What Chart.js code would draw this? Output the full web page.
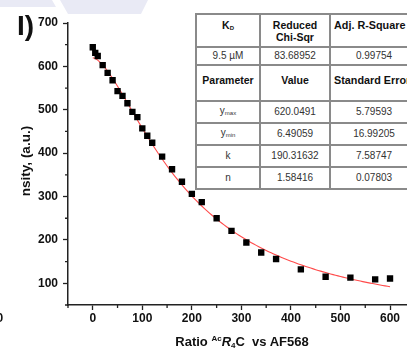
<!DOCTYPE html>
<html>
<head>
<meta charset="utf-8">
<script src="https://cdn.jsdelivr.net/npm/chart.js@4.4.0/dist/chart.umd.min.js"></script>
<style>
  html, body { margin: 0; padding: 0; background: #fff; overflow: hidden; width: 407px; height: 350px; }
  body { position: relative; font-family: "Liberation Sans", Arial, sans-serif; }
  #wrap { position: absolute; left: 0; top: 0; width: 420px; height: 350px; }
  #band { position: absolute; left: 0; top: 0; width: 407px; height: 20px; }
  .txt { position: absolute; white-space: nowrap; color: #111; font-weight: bold; }
  #panel { left: 17px; top: 10px; font-size: 28px; line-height: 32px; }
  #ytitle { left: 25px; top: 161px; font-size: 13.5px; transform: translate(-50%, -50%) rotate(-90deg); }
  #xtitle { left: 242px; top: 342px; font-size: 13px; transform: translate(-50%, -50%); }
  #xtitle sup { font-size: 8px; vertical-align: 5px; }
  #xtitle sub { font-size: 8px; vertical-align: -2px; }
  #prev0 { left: -3.5px; top: 311px; font-size: 12px; }
  #tblbox { position: absolute; left: 195px; top: 13px; width: 240px; }
  #tbl { border-collapse: collapse; background: #fff; table-layout: fixed; width: 222px; }
  #tbl td { border: 2px solid #8a8a8a; text-align: center; padding: 0; font-size: 10px; color: #333; line-height: 11.7px; vertical-align: middle; overflow: visible; white-space: nowrap; }
  #tbl td.h { font-weight: bold; color: #111; font-size: 10.5px; vertical-align: top; }
  #tbl td.h.last { text-align: left; padding-left: 3px; font-size: 10.8px; }
  #tbl tr.r1 td { height: 33px; padding-top: 5px; box-sizing: border-box; }
  #tbl tr.r2 td { height: 16px; }
  #tbl tr.r3 td { height: 36px; padding-top: 9px; box-sizing: border-box; }
  #tbl tr.rp td { height: 20px; }
  #tbl sub { font-size: 6px; vertical-align: -1px; }
</style>
</head>
<body>
<canvas id="band" width="407" height="20"></canvas>
<div id="wrap"><canvas id="c"></canvas></div>
<div class="txt" id="panel">I)</div>
<div class="txt" id="ytitle">nsity, (a.u.)</div>
<div class="txt" id="xtitle">Ratio <sup>Ac</sup><i>R</i><sub>4</sub>C&nbsp; vs AF568</div>
<div class="txt" id="prev0">0</div>
<div id="tblbox">
<table id="tbl">
  <colgroup><col style="width:64px"><col style="width:70px"><col style="width:88px"></colgroup>
  <tbody id="tbody"></tbody>
</table>
</div>
<script>
// Measured titration points
const ratioValues = [0, 5, 10, 20, 30, 40, 50, 60, 70, 80, 90, 100, 110, 120, 140, 160, 180, 200, 220, 250, 280, 310, 340, 370, 420, 470, 520, 570, 600];
const intensityValues = [644, 631, 624, 603, 585, 568, 543, 532, 515, 495, 483, 457, 440, 424, 392, 363, 334, 306, 287, 250, 221, 194, 171, 156, 132, 115, 113, 109, 111];

// Axis tick labels (major) and minor tick positions
const xTickValues = [0, 100, 200, 300, 400, 500, 600];
const yTickValues = [100, 200, 300, 400, 500, 600, 700];
const xMinorValues = [-50, 50, 150, 250, 350, 450, 550, 650];
const yMinorValues = [50, 150, 250, 350, 450, 550, 650];

// Hill fit results
const fitStatLabels = ['K<sub style="font-size:6px">D</sub>', 'Reduced<br>Chi-Sqr', 'Adj. R-Square'];
const fitStatValues = ['9.5 µM', '83.68952', '0.99754'];
const paramHeaders = ['Parameter', 'Value', 'Standard Error'];
const paramNames = ['y<sub>max</sub>', 'y<sub>min</sub>', 'k', 'n'];
const paramValues = ['620.0491', '6.49059', '190.31632', '1.58416'];
const paramErrors = ['5.79593', '16.99205', '7.58747', '0.07803'];

// fit table
const tbody = document.getElementById('tbody');
function addRow(cls, cells, head) {
  const tr = document.createElement('tr');
  tr.className = cls;
  cells.forEach((c, i) => {
    const td = document.createElement('td');
    if (head) td.className = i === cells.length - 1 ? 'h last' : 'h';
    td.innerHTML = c;
    tr.appendChild(td);
  });
  tbody.appendChild(tr);
}
addRow('r1', fitStatLabels, true);
addRow('r2', fitStatValues, false);
addRow('r3', paramHeaders, true);
paramNames.forEach((n, i) => addRow('rp', [n, paramValues[i], paramErrors[i]], false));

// fitted curve from the table parameters: y = ymin + (ymax - ymin) / (1 + (x/k)^n)
const yMax = parseFloat(paramValues[0]);
const yMin = parseFloat(paramValues[1]);
const kHalf = parseFloat(paramValues[2]);
const hillN = parseFloat(paramValues[3]);
const fitPoints = [];
for (let x = 0; x <= 600; x += 5) {
  fitPoints.push({ x: x, y: yMin + (yMax - yMin) / (1 + Math.pow(x / kHalf, hillN)) });
}

// decorative band at the top
(function () {
  const bc = document.getElementById('band').getContext('2d');
  bc.fillStyle = '#e9eaf5';
  bc.beginPath();
  bc.moveTo(0, 0); bc.lineTo(52, 0); bc.lineTo(56, 7); bc.lineTo(0, 7); bc.closePath(); bc.fill();
  bc.beginPath();
  bc.moveTo(60, 0); bc.lineTo(148, 0); bc.lineTo(141, 14); bc.lineTo(68, 14); bc.closePath(); bc.fill();
})();

const axisColor = '#222';
const tickFont = { family: '"Liberation Sans", Arial, sans-serif', size: 12, weight: 'bold' };

const minorTicks = {
  id: 'minorTicks',
  afterDraw(chart) {
    const ctx = chart.ctx;
    const xs = chart.scales.x, ys = chart.scales.y;
    const area = chart.chartArea;
    ctx.save();
    ctx.strokeStyle = axisColor;
    ctx.lineWidth = 1.3;
    ctx.beginPath();
    xMinorValues.forEach(v => {
      const px = xs.getPixelForValue(v);
      ctx.moveTo(px, area.bottom); ctx.lineTo(px, area.bottom + 3);
    });
    yMinorValues.forEach(v => {
      const py = ys.getPixelForValue(v);
      ctx.moveTo(area.left - 3, py); ctx.lineTo(area.left, py);
    });
    ctx.stroke();
    ctx.restore();
  }
};

new Chart(document.getElementById('c'), {
  type: 'scatter',
  data: {
    datasets: [
      {
        label: 'data',
        data: ratioValues.map((x, i) => ({ x: x, y: intensityValues[i] })),
        pointStyle: 'rect',
        pointRadius: 4.5,
        pointBorderWidth: 0,
        backgroundColor: '#000',
        borderColor: '#000'
      },
      {
        label: 'fit',
        type: 'line',
        data: fitPoints,
        showLine: true,
        pointRadius: 0,
        borderColor: '#ff4a4a',
        borderWidth: 1.1,
        tension: 0,
        fill: false
      }
    ]
  },
  options: {
    responsive: true,
    maintainAspectRatio: false,
    animation: false,
    layout: { padding: { left: 0, top: 23, right: 5.2, bottom: 0 } },
    plugins: { legend: { display: false }, tooltip: { enabled: false } },
    scales: {
      x: {
        type: 'linear',
        min: -50,
        max: 650,
        afterBuildTicks: s => { s.ticks = xTickValues.map(v => ({ value: v })); },
        afterFit: s => { s.height = 45; },
        ticks: { font: tickFont, color: '#111', padding: 1, maxRotation: 0 },
        grid: { display: true, drawOnChartArea: false, drawTicks: true, tickLength: 5, tickColor: axisColor, tickWidth: 1.3 },
        border: { display: true, color: axisColor, width: 1.5 }
      },
      y: {
        type: 'linear',
        min: 50,
        max: 700,
        afterBuildTicks: s => { s.ticks = yTickValues.map(v => ({ value: v })); },
        afterFit: s => { s.width = 68; },
        ticks: { font: tickFont, color: '#111', padding: 5 },
        grid: { display: true, drawOnChartArea: false, drawTicks: true, tickLength: 5, tickColor: axisColor, tickWidth: 1.3 },
        border: { display: true, color: axisColor, width: 1.5 }
      }
    }
  },
  plugins: [minorTicks]
});
</script>
</body>
</html>
